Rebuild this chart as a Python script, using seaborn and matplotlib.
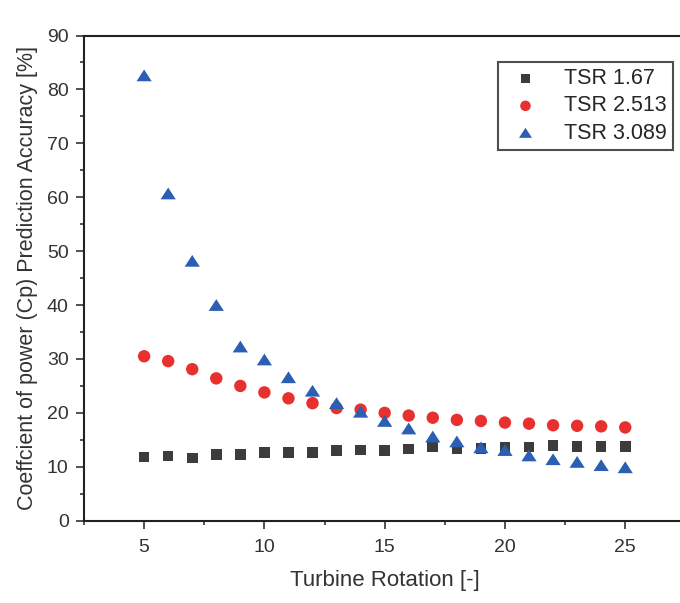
import numpy as np
import pandas as pd
import matplotlib
matplotlib.use("Agg")
import matplotlib.pyplot as plt
from matplotlib.ticker import MultipleLocator
import seaborn as sns

rotation = list(range(5, 26))
tsr_167 = [11.8, 12.0, 11.6, 12.3, 12.3, 12.6, 12.6, 12.6, 13.0, 13.1, 13.0,
           13.3, 13.7, 13.3, 13.4, 13.7, 13.7, 14.0, 13.8, 13.8, 13.8]
tsr_2513 = [30.5, 29.6, 28.1, 26.4, 25.0, 23.8, 22.7, 21.8, 20.9, 20.6, 20.0,
            19.5, 19.1, 18.7, 18.5, 18.2, 18.0, 17.7, 17.6, 17.5, 17.3]
tsr_3089 = [82.5, 60.6, 48.1, 39.9, 32.2, 29.8, 26.5, 24.0, 21.7, 20.1, 18.4,
            17.0, 15.5, 14.6, 13.5, 13.0, 12.0, 11.3, 10.8, 10.2, 9.8]
series_labels = ["TSR 1.67", "TSR 2.513", "TSR 3.089"]
x_ticks = [5, 10, 15, 20, 25]
y_ticks = [0, 10, 20, 30, 40, 50, 60, 70, 80, 90]

sns.set_style("ticks")
plt.rcParams['font.family'] = ['Liberation Sans', 'DejaVu Sans']

fig = plt.figure(figsize=(6.8, 6.03), dpi=100)
ax = fig.add_axes([0.1235, 0.1365, 0.8844, 0.8046])

wide_triangle = [(0.0, 0.85), (-1.0, -0.7), (1.0, -0.7), (0.0, 0.85)]
colors = ["#3c3c3c", "#e8312f", "#2b5fb4"]
markers = ["s", "o", wide_triangle]
sizes = [58, 80, 120]
for vals, lab, c, m, s in zip([tsr_167, tsr_2513, tsr_3089], series_labels, colors, markers, sizes):
    df = pd.DataFrame({"x": rotation, "y": vals})
    sns.scatterplot(data=df, x="x", y="y", ax=ax, color=c, marker=m, s=s,
                    edgecolor="none", linewidth=0, label=lab)

ax.set_xlim(2.5, 27.5)
ax.set_ylim(0, 90)
ax.set_xticks(x_ticks)
ax.set_yticks(y_ticks)
ax.xaxis.set_minor_locator(MultipleLocator(2.5))
ax.yaxis.set_minor_locator(MultipleLocator(5))
ax.tick_params(which="major", direction="out", length=6, width=1.2, colors="#333333",
               labelsize=14, labelcolor="#333333")
ax.tick_params(axis="x", which="major", pad=7)
ax.tick_params(axis="y", which="major", pad=5)
ax.tick_params(which="minor", direction="out", length=3, width=1.2, colors="#333333")
ax.tick_params(top=False, right=False, which="both")

for sp in ax.spines.values():
    sp.set_visible(True)
    sp.set_linewidth(1.5)
    sp.set_color("#222222")

ax.set_xlabel("Turbine Rotation [-]", fontsize=16, color="#333333", labelpad=10)
ax.set_ylabel("Coeffcient of power (Cp) Prediction Accuracy [%]", fontsize=15.5,
              color="#333333", labelpad=6)

leg = ax.legend(loc="upper right", bbox_to_anchor=(673 / 680, 1 - 62 / 603),
                bbox_transform=fig.transFigure, fontsize=15.5, frameon=True,
                fancybox=False, edgecolor="#222222", handletextpad=0.8,
                labelspacing=0.3, borderpad=0.28, borderaxespad=0, markerscale=0.85)
leg.get_frame().set_linewidth(1.5)
leg.get_frame().set_facecolor("white")

fig.savefig("out.png", dpi=100)
